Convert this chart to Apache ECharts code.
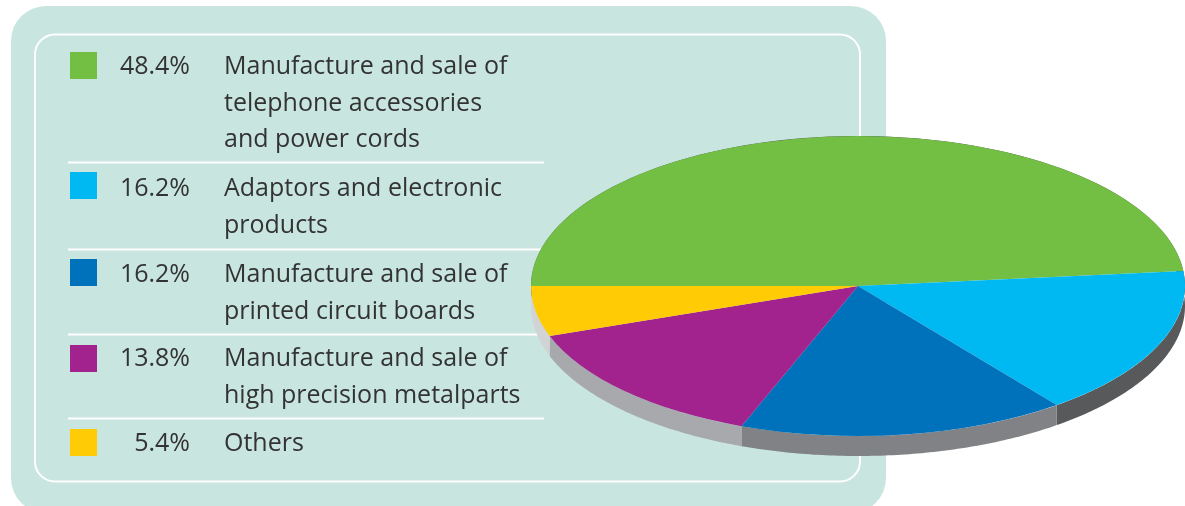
<!DOCTYPE html>
<html>
<head>
<meta charset="utf-8">
<style>
  html, body { margin: 0; padding: 0; background: #fff; }
  #chart { width: 1185px; height: 506px; }
</style>
<script src="https://cdn.jsdelivr.net/npm/echarts@6/dist/echarts.min.js"></script>
</head>
<body>
<div id="chart"></div>
<script>
// data
const categories = [
  ['Manufacture and sale of', 'telephone accessories', 'and power cords'],
  ['Adaptors and electronic', 'products'],
  ['Manufacture and sale of', 'printed circuit boards'],
  ['Manufacture and sale of', 'high precision metalparts'],
  ['Others'],
]
const shares = [48.4, 16.2, 16.2, 13.8, 5.4]
const sliceColors = ['#72bf44', '#00b9f2', '#0072bc', '#a3238e', '#ffcb05']
const wallColors = ['#58595b', '#58595b', '#808285', '#a7a9ac', '#d1d3d4']

// layout
const pie = { cx: 858, cy: 286, rx: 327, ry: 150, depth: 20 }
const swatchTops = [52, 172, 259, 345, 429]
const lineCentres = [[67, 104, 140], [189, 226], [275, 312], [359, 396], [444]]
const dividerYs = [162.5, 249.5, 334.5, 418.5]
const textFont = '25px "Open Sans"'
const textColor = '#333333'

const total = shares.reduce((a, b) => a + b, 0)

// slices start at the left edge and run clockwise over the top
function sliceAngles(index) {
  let before = 0
  for (let i = 0; i < index; i++) before += shares[i]
  const start = Math.PI + (before / total) * Math.PI * 2
  return [start, start + (shares[index] / total) * Math.PI * 2]
}

function renderTop(params, api) {
  const [startAngle, endAngle] = sliceAngles(params.dataIndex)
  return {
    type: 'sector',
    x: pie.cx,
    y: pie.cy,
    scaleY: pie.ry / pie.rx,
    shape: { cx: 0, cy: 0, r0: 0, r: pie.rx, startAngle, endAngle, clockwise: true },
    style: { fill: sliceColors[params.dataIndex] },
  }
}

function renderWall(params, api) {
  const [startAngle, endAngle] = sliceAngles(params.dataIndex)
  const steps = 80
  const upper = []
  const lower = []
  for (let i = 0; i <= steps; i++) {
    const a = startAngle + ((endAngle - startAngle) * i) / steps
    const x = pie.cx + pie.rx * Math.cos(a)
    const y = pie.cy + pie.ry * Math.sin(a)
    upper.push([x, y])
    lower.unshift([x, y + pie.depth])
  }
  return {
    type: 'polygon',
    shape: { points: upper.concat(lower) },
    style: { fill: wallColors[params.dataIndex] },
  }
}

// panel and legend
const graphic = [
  {
    type: 'rect',
    z: 0,
    shape: { x: 11, y: 6, width: 875, height: 507, r: 35 },
    style: { fill: '#c8e6df' },
  },
  {
    type: 'rect',
    z: 1,
    shape: { x: 35, y: 34.5, width: 825, height: 447, r: 20 },
    style: { fill: 'none', stroke: '#fff', lineWidth: 2 },
  },
]
dividerYs.forEach((y) => {
  graphic.push({
    type: 'rect',
    z: 1,
    shape: { x: 68, y: y - 1, width: 476, height: 2 },
    style: { fill: '#fff' },
  })
})
categories.forEach((lines, i) => {
  graphic.push({
    type: 'rect',
    z: 1,
    shape: { x: 70, y: swatchTops[i], width: 27, height: 27 },
    style: { fill: sliceColors[i] },
  })
  graphic.push({
    type: 'text',
    z: 1,
    x: 190,
    y: lineCentres[i][0],
    style: {
      text: shares[i].toFixed(1) + '%',
      font: textFont,
      fill: textColor,
      textAlign: 'right',
      textVerticalAlign: 'middle',
    },
  })
  lines.forEach((line, j) => {
    graphic.push({
      type: 'text',
      z: 1,
      x: 224,
      y: lineCentres[i][j],
      style: {
        text: line,
        font: textFont,
        fill: textColor,
        textAlign: 'left',
        textVerticalAlign: 'middle',
      },
    })
  })
})

const chart = echarts.init(document.getElementById('chart'))
chart.setOption({
  animation: false,
  backgroundColor: '#fff',
  graphic,
  series: [
    { type: 'custom', coordinateSystem: 'none', silent: true, z: 5, data: shares, renderItem: renderWall },
    { type: 'custom', coordinateSystem: 'none', silent: true, z: 6, data: shares, renderItem: renderTop },
  ],
})
</script>
</body>
</html>
